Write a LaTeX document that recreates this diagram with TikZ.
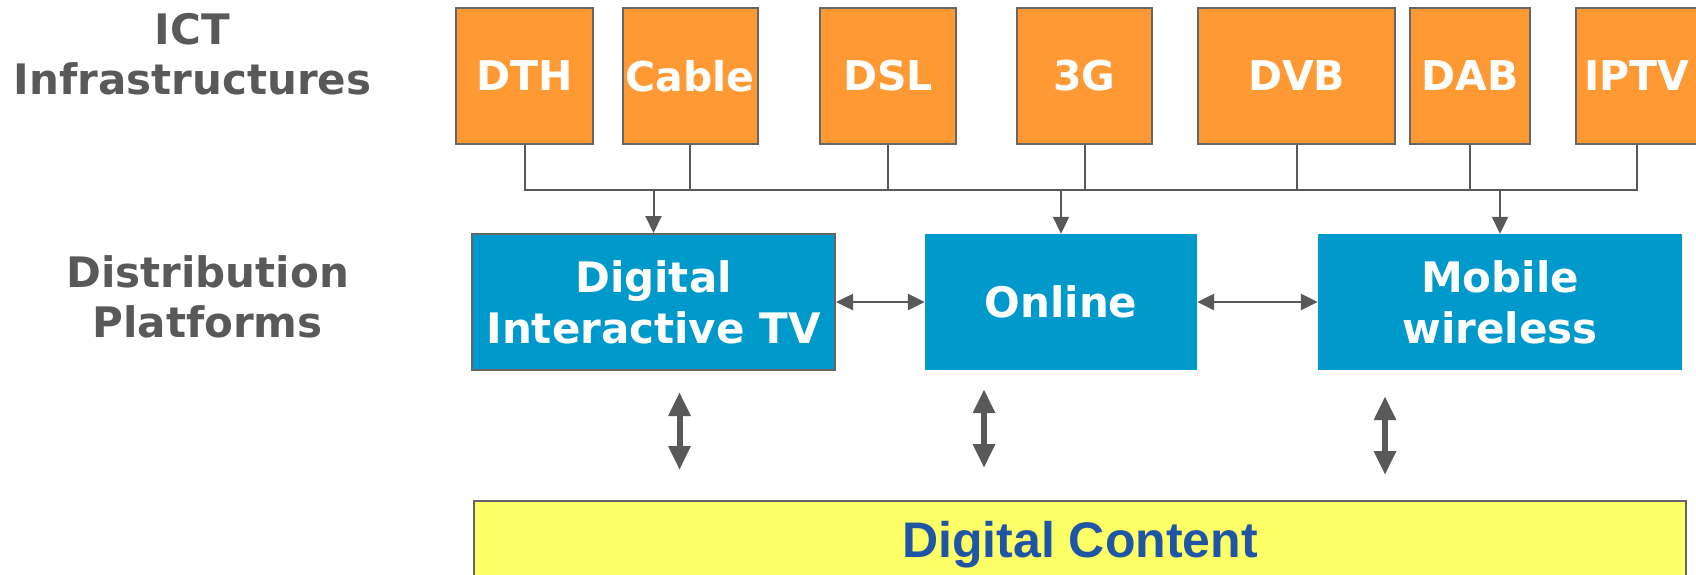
\documentclass[tikz,border=0pt]{standalone}
\usepackage{fontspec}
\setmainfont{DejaVu Sans}
\newfontfamily\arialfont{Liberation Sans}
\usetikzlibrary{arrows.meta}
\definecolor{infraorange}{HTML}{FF9933}
\definecolor{platblue}{HTML}{0099CC}
\definecolor{contentyellow}{HTML}{FFFF66}
\definecolor{edge}{HTML}{666666}
\definecolor{labelgrey}{HTML}{595959}
\definecolor{contentblue}{HTML}{1F55A5}

\begin{document}
\begin{tikzpicture} [x=1pt,y=-1pt,
  infra/.style= {shape=rectangle,draw=edge,line width=2pt,fill=infraorange,minimum height=136pt,inner sep=0,text=white,font=\fontsize{41}{50}\selectfont\bfseries},
  platform/.style= {shape=rectangle,fill=platblue,minimum height=136pt,inner sep=0,align=center,text=white,font=\fontsize{42}{51}\selectfont\bfseries},
  content/.style= {shape=rectangle,draw=edge,line width=2pt,fill=contentyellow,minimum width=1212pt,minimum height=88pt,inner sep=0,text=contentblue,font=\arialfont\fontsize{50}{58}\selectfont\bfseries},
  layer/.style= {align=center,text=labelgrey,font=\fontsize{42}{50}\selectfont\bfseries},
  wire/.style= {draw=labelgrey,line width=2pt},
  feed/.style= {wire,-{Triangle[length=17pt,width=16pt]}},
  link/.style= {wire,line width=2.5pt,{Triangle[length=17pt,width=16pt]}-{Triangle[length=17pt,width=16pt]}},
  updown/.style= {draw=labelgrey,line width=6pt,{Triangle[length=24pt,width=21pt]}-{Triangle[length=24pt,width=21pt]}}]
  \useasboundingbox (0,0) rectangle (1696,574);
  % Row 1
  {\node[infra] [minimum width=137pt] (1;1) at (524.5,76) {DTH};}
  {\node[infra] [minimum width=135pt] (1;2) at (690,76) {Cable};}
  {\node[infra] [minimum width=136pt] (1;3) at (888,76) {DSL};}
  {\node[infra] [minimum width=135pt] (1;4) at (1084.5,76) {3G};}
  {\node[infra] [minimum width=197pt] (1;5) at (1296.5,76) {DVB};}
  {\node[infra] [minimum width=120pt] (1;6) at (1470,76) {DAB};}
  {\node[infra] [minimum width=121pt] (1;7) at (1636.5,76) {IPTV};}
  % Row 2
  {\node[platform] [draw=edge,line width=2pt,minimum width=363pt] (2;1) at (653.5,302) {Digital\\Interactive TV};}
  {\node[platform] [minimum width=272pt] (2;2) at (1061,302) {Online};}
  {\node[platform] [minimum width=364pt] (2;3) at (1500,302) {Mobile\\wireless};}
  % Row 3
  {\node[content] (3;1) at (1080,545) {Digital Content};}
  % Layer names
  {\node[layer] (ict) at (192.5,54) {ICT\\Infrastructures};}
  {\node[layer] (dist) at (207.6,297) {Distribution\\Platforms};}
  % Bus
  \draw[wire] (1;1.south) -- ++(0,45) coordinate (bus) -| (1;7.south);
  \foreach \n in {2,...,6} {\draw[wire] (1;\n.south) -- ++(0,45);}
  \foreach \n in {1,2,3} {\draw[feed] (bus -| 2;\n.north) -- (2;\n.north);}
  % Platforms
  \draw[link] (2;1) -- (2;2);
  \draw[link] (2;2) -- (2;3);
  % Content
  \coordinate (up1) at ([xshift=26pt]2;1.south);
  \coordinate (up2) at ([xshift=-77pt]2;2.south);
  \coordinate (up3) at ([xshift=-115pt]2;3.south);
  \draw[updown,shorten <=21pt,shorten >=30pt] (up1) -- (up1 |- 3;1.north);
  \draw[updown,shorten <=19pt,shorten >=32pt] (up2) -- (up2 |- 3;1.north);
  \draw[updown,shorten <=26pt,shorten >=25pt] (up3) -- (up3 |- 3;1.north);
\end{tikzpicture}
\end{document}
